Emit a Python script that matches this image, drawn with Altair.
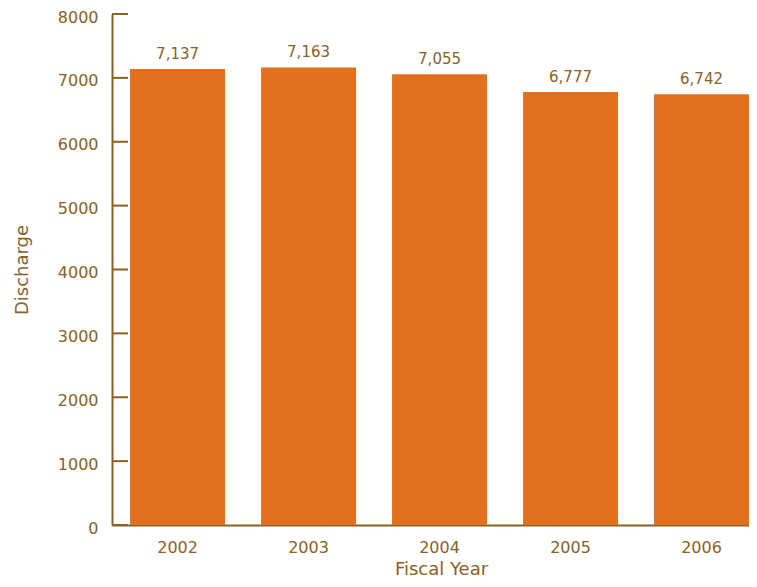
import altair as alt
import pandas as pd

years = ["2002", "2003", "2004", "2005", "2006"]
discharge = [7137, 7163, 7055, 6777, 6742]
y_ticks = [0, 1000, 2000, 3000, 4000, 5000, 6000, 7000, 8000]

df = pd.DataFrame({"year": years, "value": discharge})
df["label"] = [f"{v:,}" for v in discharge]
ticks_df = pd.DataFrame({"t": y_ticks})

BROWN = "#8a6126"
ORANGE = "#e2701e"
FONT = "DejaVu Sans"

x_enc = alt.X("year:N", title="Fiscal Year",
              scale=alt.Scale(paddingInner=0.275, paddingOuter=0.069, align=1),
              axis=alt.Axis(labelAngle=0, ticks=False, labelPadding=14,
                            titlePadding=5, titleX=329))
y_scale = alt.Scale(domain=[0, 8000], nice=False)

bars = alt.Chart(df).mark_bar(color=ORANGE).encode(
    x=x_enc,
    y=alt.Y("value:Q", title="Discharge", scale=y_scale,
            axis=alt.Axis(values=y_ticks, format="d", ticks=False, grid=False,
                          labelPadding=14, labelOffset=3, titlePadding=26)),
)

labels = alt.Chart(df).mark_text(color=BROWN, font=FONT, fontSize=15,
                                 baseline="bottom", dy=-7).encode(
    x=alt.X("year:N"),
    y=alt.Y("value:Q", scale=y_scale),
    text="label:N",
)

tick_rules = alt.Chart(ticks_df).mark_rule(color=BROWN, strokeWidth=2).encode(
    y=alt.Y("t:Q", scale=y_scale),
    x=alt.value(0),
    x2=alt.value(16),
)

chart = alt.layer(bars, labels, tick_rules).properties(
    width=637, height=511,
    autosize=alt.AutoSizeParams(type="none"),
    padding={"left": 104, "top": 6, "right": 0, "bottom": 54},
).configure_view(stroke=None).configure_axis(
    domainColor=BROWN, domainWidth=2, labelColor=BROWN, titleColor=BROWN,
    labelFont=FONT, titleFont=FONT, labelFontSize=16, titleFontSize=18,
    titleFontWeight="normal", grid=False,
)

chart.save("out.html", embed_options={"renderer": "svg", "actions": False})
